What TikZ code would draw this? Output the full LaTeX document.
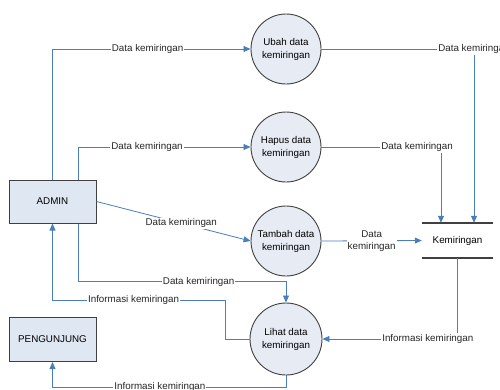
\documentclass[tikz,border=0pt]{standalone}
\usepackage{fontspec}
\setmainfont{Liberation Sans}
\usetikzlibrary{arrows.meta}
\definecolor{flowblue}{HTML}{4A7EBB}
\definecolor{procfill}{HTML}{E6EBF4}
\definecolor{entfill}{HTML}{DFE7F2}
\definecolor{edgegrey}{HTML}{404040}
\begin{document}
\begin{tikzpicture}[x=1pt,y=-1pt,
  font=\fontsize{9.8}{13}\selectfont,
  proc/.style={circle,draw=edgegrey,fill=procfill,line width=0.9pt,minimum size=70pt,inner sep=0pt,align=center},
  ent/.style={rectangle,draw=edgegrey,fill=entfill,line width=1pt,minimum width=87pt,minimum height=43pt},
  flow/.style={draw=flowblue,line width=0.8pt,-{Triangle[length=7pt,width=6pt]}},
  lbl/.style={fill=white,inner sep=1pt,text=black!85}]
\useasboundingbox (0,0) rectangle (500,389);

\node[proc] (ubah) at (286,49) {Ubah data\\kemiringan};
\node[proc] (hapus) at (286,147) {Hapus data\\kemiringan};
\node[proc] (tambah) at (286,241) {Tambah data\\kemiringan};
\node[proc, minimum size=72pt] (lihat) at (286,339) {Lihat data\\kemiringan};
\node[ent] (admin) at (52.5,201.5) {ADMIN};
\node[ent, minimum height=44pt] (peng) at (52.5,339.5) {PENGUNJUNG};
\node[minimum width=71pt, minimum height=35pt, inner sep=0pt] (store) at (457.5,240.5) {Kemiringan};
\draw[edgegrey,line width=1.5pt] (store.north west) -- (store.north east) (store.south west) -- (store.south east);

\coordinate (s1) at ([xshift=16.5pt]store.north);
\coordinate (s2) at ([xshift=-16.5pt]store.north);
\coordinate (b7) at ([yshift=21pt]lihat.north);
\coordinate (b8) at (225,300);
\coordinate (c8) at (admin.south |- b8);
\coordinate (b10) at ([yshift=-12pt]lihat.south);

\draw[flow] (admin.north) |- node[lbl,pos=0.74]{Data kemiringan} (ubah.west);
\draw[flow] ([xshift=25.5pt]admin.north) |- node[lbl,pos=0.70]{Data kemiringan} (hapus.west);
\draw[flow] (ubah.east) -| node[lbl,pos=0.5]{Data kemiringan} (s1);
\draw[flow] (hapus.east) -| node[lbl,pos=0.4]{Data kemiringan} (s2);
\draw[flow] (admin.east) -- node[lbl,pos=0.55]{Data kemiringan} (tambah.west);
\draw[flow] (tambah.east) -- node[lbl,align=center,font=\fontsize{9.8}{12}\selectfont]{Data\\kemiringan} (store.west);
\draw[flow] ([xshift=25.5pt]admin.south) |- node[lbl,pos=0.79]{Data kemiringan} (b7) -- (lihat.north);
\draw[flow] (lihat.west) -| (b8) -- node[lbl,pos=0.53]{Informasi kemiringan} (c8) -- (admin.south);
\draw[flow] (store.south) |- node[lbl,pos=0.61]{Informasi kemiringan} (lihat.east);
\draw[flow] (lihat.south) -- (b10) -| node[lbl,pos=0.27]{Informasi kemiringan} (peng.south);
\end{tikzpicture}
\end{document}
